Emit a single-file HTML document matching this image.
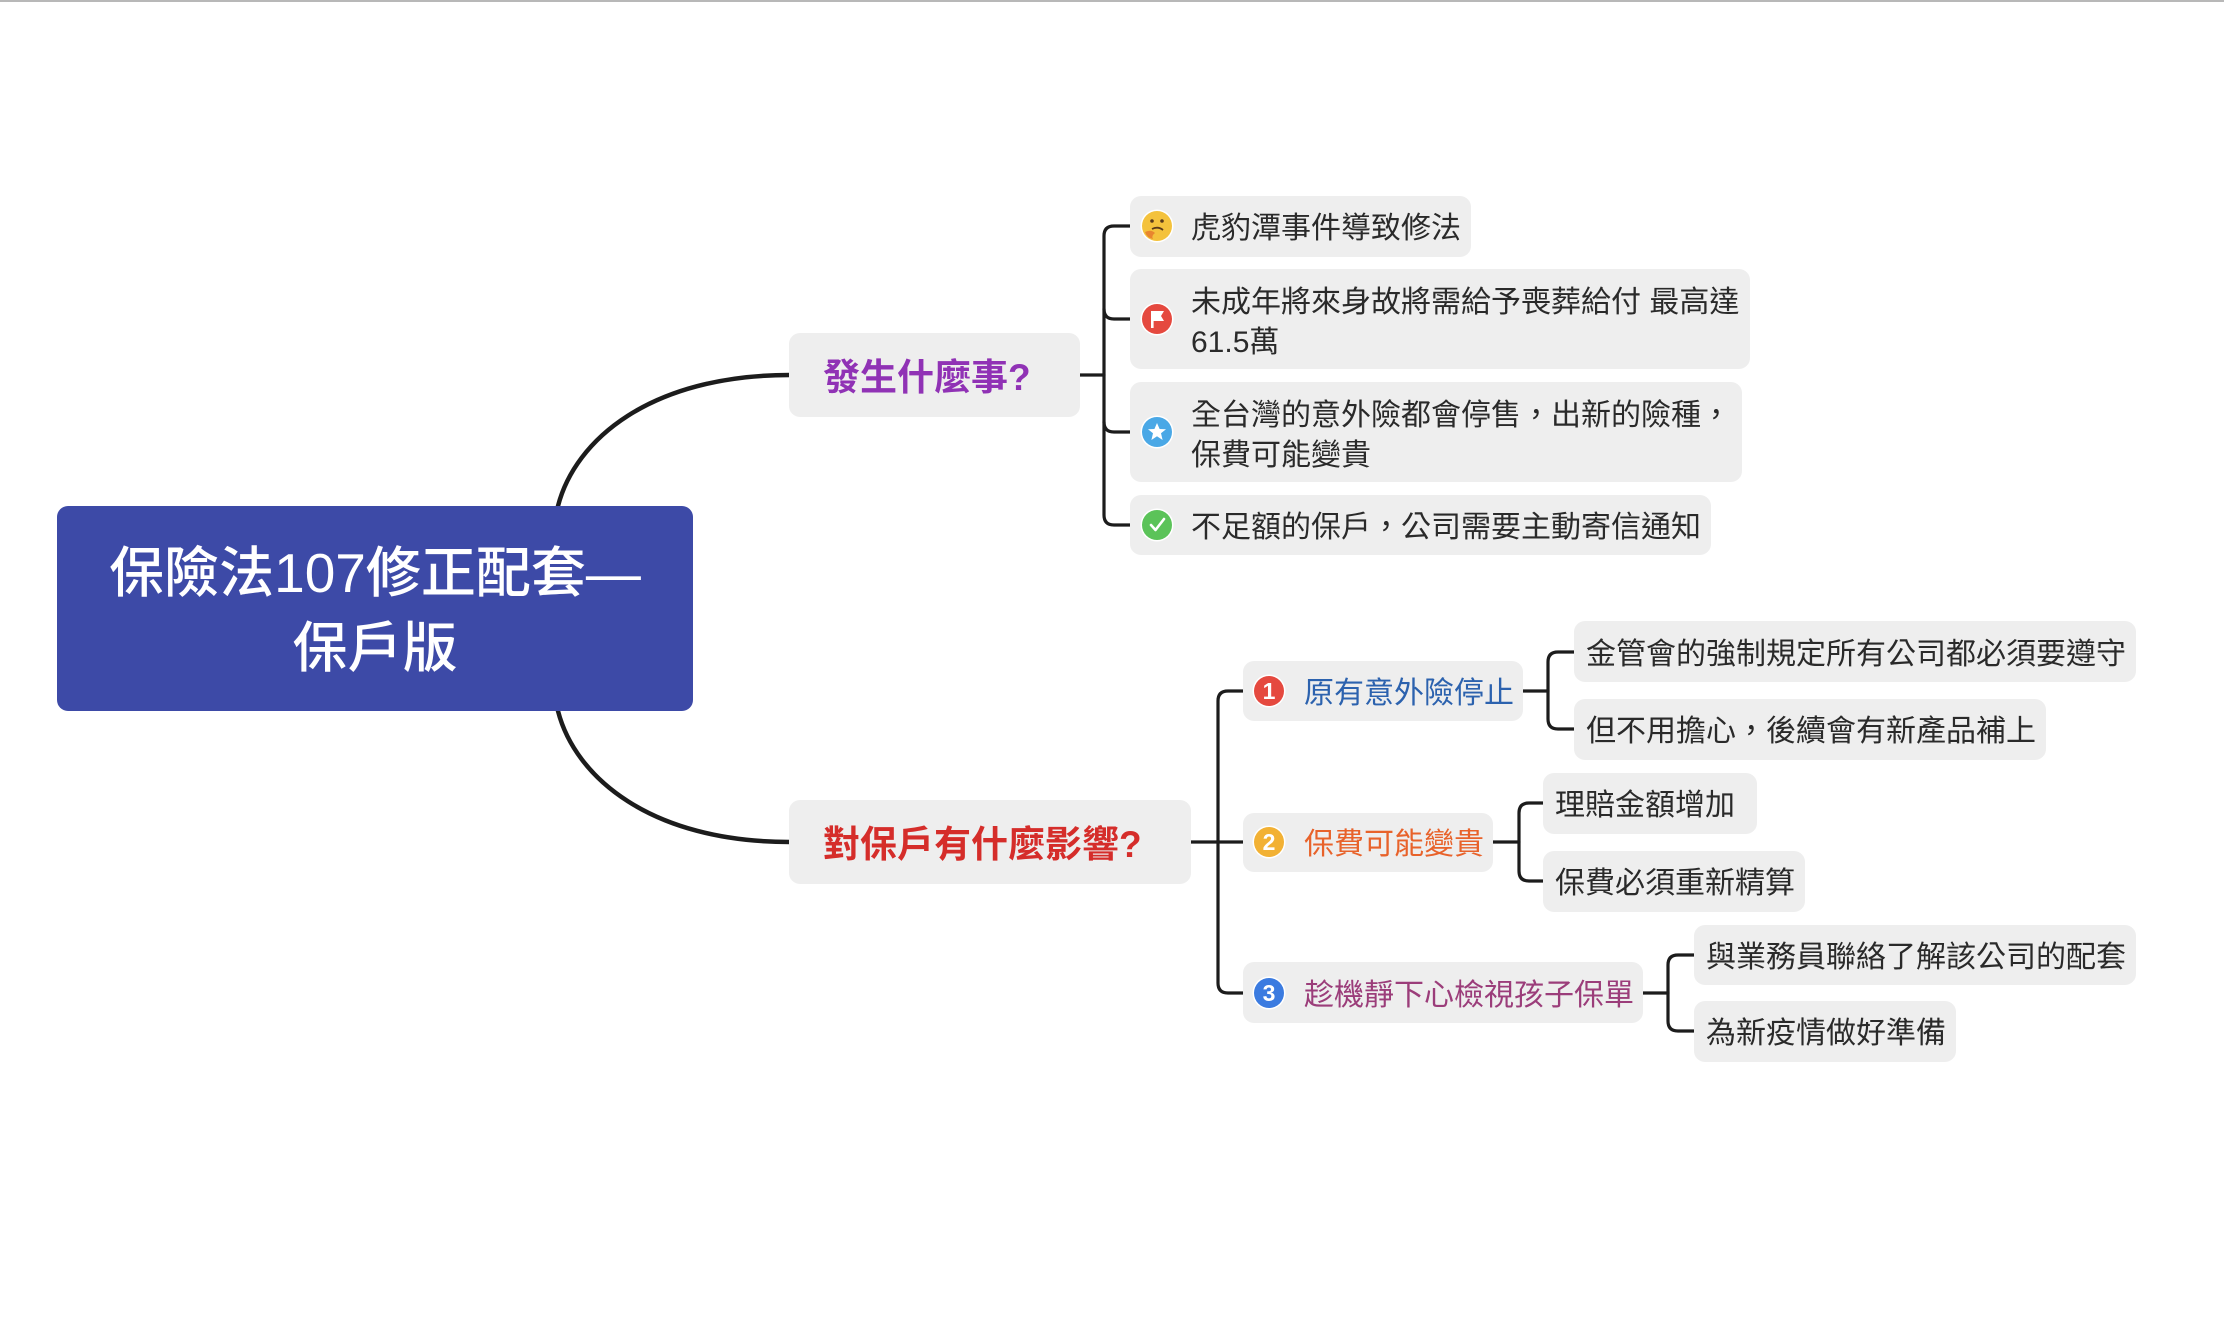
<!DOCTYPE html>
<html><head><meta charset="utf-8">
<style>
html,body{margin:0;padding:0;background:#fff;}
body{width:2224px;height:1341px;position:relative;overflow:hidden;font-family:"Liberation Sans","Noto Sans CJK TC",sans-serif;}
.topline{position:absolute;left:0;top:0;width:2224px;height:2px;background:#b8b8b8;}
.box{position:absolute;background:#eeeeee;border-radius:11px;box-sizing:border-box;}
.main{position:absolute;left:57px;top:506px;width:636px;height:205px;background:#3d4aa7;border-radius:11px;color:#fff;font-size:55px;font-weight:500;text-align:center;line-height:75px;box-sizing:border-box;padding-top:30px;}
.t{position:absolute;white-space:nowrap;color:#2a2a2a;font-size:30px;line-height:40px;}
.b{position:absolute;white-space:nowrap;font-size:37px;font-weight:700;line-height:44px;}
svg{position:absolute;left:0;top:0;}
</style></head><body>
<div class="topline"></div>

<svg width="2224" height="1341" viewBox="0 0 2224 1341">
 <g fill="none" stroke="#1c1c1c" stroke-linecap="round">
  <path d="M558,506 C575,440 650,375 790,375" stroke-width="4.5"/>
  <path d="M558,711 C575,777 650,842 790,842" stroke-width="4.5"/>
  <g stroke-width="3.2">
   <path d="M1080,375 H1104"/>
   <path d="M1130,226 H1114 Q1104,226 1104,236 V515 Q1104,525 1114,525 H1130"/>
   <path d="M1104,309 Q1104,319 1114,319 H1130"/>
   <path d="M1104,422 Q1104,432 1114,432 H1130"/>
   <path d="M1191,842 H1243"/>
   <path d="M1243,691 H1228 Q1218,691 1218,701 V983 Q1218,993 1228,993 H1243"/>
   <path d="M1523,691 H1548"/>
   <path d="M1574,652 H1558 Q1548,652 1548,662 V719 Q1548,729 1558,729 H1574"/>
   <path d="M1493,842 H1519"/>
   <path d="M1543,803 H1529 Q1519,803 1519,813 V871 Q1519,881 1529,881 H1543"/>
   <path d="M1643,993 H1668"/>
   <path d="M1694,955 H1678 Q1668,955 1668,965 V1021 Q1668,1031 1678,1031 H1694"/>
  </g>
 </g>
</svg>

<div class="main">保險法107修正配套—<br>保戶版</div>

<div class="box" style="left:789px;top:333px;width:291px;height:84px;"></div>
<div class="b" style="left:823px;top:356px;color:#9032b5;">發生什麼事?</div>

<div class="box" style="left:789px;top:800px;width:402px;height:84px;"></div>
<div class="b" style="left:823px;top:823px;color:#d52d2a;">對保戶有什麼影響?</div>

<div class="box" style="left:1130px;top:196px;width:341px;height:61px;"></div>
<div class="t" style="left:1191px;top:209px;">虎豹潭事件導致修法</div>

<div class="box" style="left:1130px;top:269px;width:620px;height:100px;"></div>
<div class="t" style="left:1191px;top:283px;">未成年將來身故將需給予喪葬給付 最高達<br>61.5萬</div>

<div class="box" style="left:1130px;top:382px;width:612px;height:100px;"></div>
<div class="t" style="left:1191px;top:396px;">全台灣的意外險都會停售，出新的險種，<br>保費可能變貴</div>

<div class="box" style="left:1130px;top:495px;width:581px;height:60px;"></div>
<div class="t" style="left:1191px;top:508px;">不足額的保戶，公司需要主動寄信通知</div>

<div class="box" style="left:1243px;top:661px;width:280px;height:60px;"></div>
<div class="t" style="left:1304px;top:674px;color:#2c62ae;">原有意外險停止</div>

<div class="box" style="left:1243px;top:813px;width:250px;height:59px;"></div>
<div class="t" style="left:1304px;top:825px;color:#e8622a;">保費可能變貴</div>

<div class="box" style="left:1243px;top:962px;width:400px;height:61px;"></div>
<div class="t" style="left:1304px;top:976px;color:#9b3d7a;">趁機靜下心檢視孩子保單</div>

<div class="box" style="left:1574px;top:621px;width:562px;height:61px;"></div>
<div class="t" style="left:1586px;top:635px;">金管會的強制規定所有公司都必須要遵守</div>

<div class="box" style="left:1574px;top:699px;width:472px;height:61px;"></div>
<div class="t" style="left:1586px;top:712px;">但不用擔心，後續會有新產品補上</div>

<div class="box" style="left:1543px;top:773px;width:214px;height:61px;"></div>
<div class="t" style="left:1555px;top:786px;">理賠金額增加</div>

<div class="box" style="left:1543px;top:851px;width:262px;height:61px;"></div>
<div class="t" style="left:1555px;top:864px;">保費必須重新精算</div>

<div class="box" style="left:1694px;top:925px;width:442px;height:60px;"></div>
<div class="t" style="left:1706px;top:938px;">與業務員聯絡了解該公司的配套</div>

<div class="box" style="left:1694px;top:1001px;width:262px;height:61px;"></div>
<div class="t" style="left:1706px;top:1014px;">為新疫情做好準備</div>

<svg width="2224" height="1341" viewBox="0 0 2224 1341">
 <g transform="translate(1157,226)">
  <circle r="16.5" fill="#fff"/>
  <circle r="15" fill="#f4c23c"/>
  <circle cx="-5" cy="-5" r="1.8" fill="#5a3a1a"/>
  <circle cx="5" cy="-5" r="1.8" fill="#5a3a1a"/>
  <path d="M-5,3 Q1,0 6,4" stroke="#5a3a1a" stroke-width="1.8" fill="none"/>
  <path d="M-12,6 Q-6,3 -2,7 Q-6,10 -4,13 Q-10,12 -12,6 Z" fill="#e8862f"/>
 </g>
 <g transform="translate(1157,319)">
  <circle r="16.5" fill="#fff"/>
  <circle r="15" fill="#e5493f"/>
  <rect x="-6" y="-8" width="2.6" height="17" fill="#fff"/>
  <path d="M-4,-8 H7 L4,-3 L7,2 H-4 Z" fill="#fff"/>
 </g>
 <g transform="translate(1157,432)">
  <circle r="16.5" fill="#fff"/>
  <circle r="15" fill="#4aa8e6"/>
  <path d="M0,-9 L2.6,-3 L9,-2.8 L4,1.3 L5.6,8 L0,4.3 L-5.6,8 L-4,1.3 L-9,-2.8 L-2.6,-3 Z" fill="#fff"/>
 </g>
 <g transform="translate(1157,525)">
  <circle r="16.5" fill="#fff"/>
  <circle r="15" fill="#5bc359"/>
  <path d="M-6,0 L-1.5,5 L7,-6" stroke="#fff" stroke-width="2.6" fill="none" stroke-linecap="round" stroke-linejoin="round"/>
 </g>
 <g font-family="Liberation Sans, sans-serif" font-weight="700" font-size="23" text-anchor="middle" fill="#fff">
  <circle cx="1269" cy="691" r="16.5" fill="#fff"/>
  <circle cx="1269" cy="691" r="15" fill="#e5493f"/>
  <text x="1269" y="699">1</text>
  <circle cx="1269" cy="842" r="16.5" fill="#fff"/>
  <circle cx="1269" cy="842" r="15" fill="#f2b134"/>
  <text x="1269" y="850">2</text>
  <circle cx="1269" cy="993" r="16.5" fill="#fff"/>
  <circle cx="1269" cy="993" r="15" fill="#3b7be0"/>
  <text x="1269" y="1001">3</text>
 </g>
</svg>
</body></html>
